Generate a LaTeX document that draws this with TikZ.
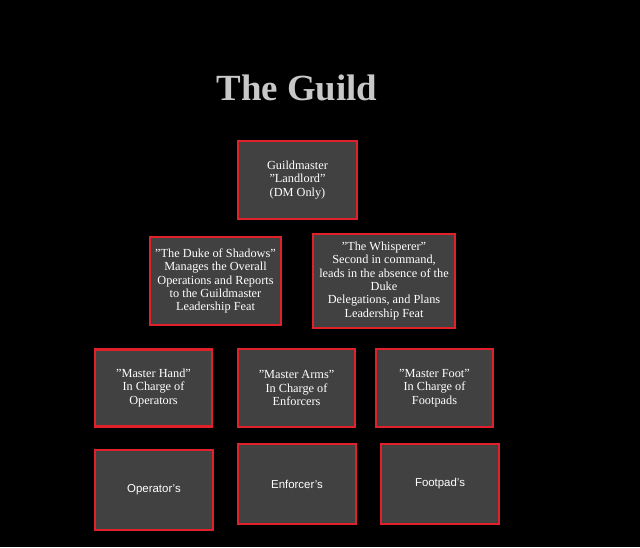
\documentclass[tikz,border=0pt]{standalone}
\usepackage{fontspec}
\setmainfont{Liberation Serif}
\setsansfont{Liberation Sans}
\definecolor{boxgrey}{HTML}{414141}
\definecolor{boxred}{HTML}{E0202A}
\definecolor{titlegrey}{HTML}{C8C8C8}
\tikzset{
  rank/.style={draw=boxred, line width=1.6pt, fill=boxgrey, text=white, align=center,
    font=\fontsize{7}{7.6}\selectfont, inner sep=0pt},
}
\newcommand{\rankbox}[6]{%
  \node[rank, minimum width={(#3-#1)*0.02cm}, minimum height={(#4-#2)*0.02cm}, #6]
    (#5) at ({(#1+#3)/2*0.02}, {-(#2+#4)/2*0.02}) {};}
\begin{document}
\begin{tikzpicture}
  \fill[black] (0,0) rectangle (12.8,-10.94);
  \useasboundingbox (0,0) rectangle (12.8,-10.94);
  \node[text=titlegrey, font=\fontsize{21}{24}\selectfont\bfseries] (title) at (5.94,-1.76) {The Guild};

  % top
  \node[rank, minimum width=2.38cm, minimum height=1.56cm] (gm) at (5.95,-3.6)
    {Guildmaster\\"Landlord"\\(DM Only)};
  % seconds
  \node[rank, minimum width=2.62cm, minimum height=1.76cm] (duke) at (4.31,-5.62)
    {"The Duke of Shadows"\\Manages the Overall\\Operations and Reports\\to the Guildmaster\\Leadership Feat};
  \node[rank, minimum width=2.84cm, minimum height=1.88cm] (whisp) at (7.68,-5.62)
    {"The Whisperer"\\Second in command,\\leads in the absence of the\\Duke\\Delegations, and Plans\\Leadership Feat};
  % masters
  \node[rank, minimum width=2.34cm, minimum height=1.54cm] (hand) at (3.07,-7.76)
    {"Master Hand"\\In Charge of\\Operators};
  \node[rank, minimum width=2.34cm, minimum height=1.56cm] (arms) at (5.93,-7.76)
    {"Master Arms"\\In Charge of\\Enforcers};
  \node[rank, minimum width=2.34cm, minimum height=1.56cm] (foot) at (8.69,-7.76)
    {"Master Foot"\\In Charge of\\Footpads};
  % ranks
  \node[rank, font=\sffamily\fontsize{6.5}{7.5}\selectfont, minimum width=2.36cm, minimum height=1.6cm] (ops) at (3.08,-9.8) {Operator's};
  \node[rank, font=\sffamily\fontsize{6.5}{7.5}\selectfont, minimum width=2.36cm, minimum height=1.6cm] (enf) at (5.94,-9.68) {Enforcer's};
  \node[rank, font=\sffamily\fontsize{6.5}{7.5}\selectfont, minimum width=2.36cm, minimum height=1.6cm] (fpd) at (8.8,-9.68) {Footpad's};
\end{tikzpicture}
\end{document}
